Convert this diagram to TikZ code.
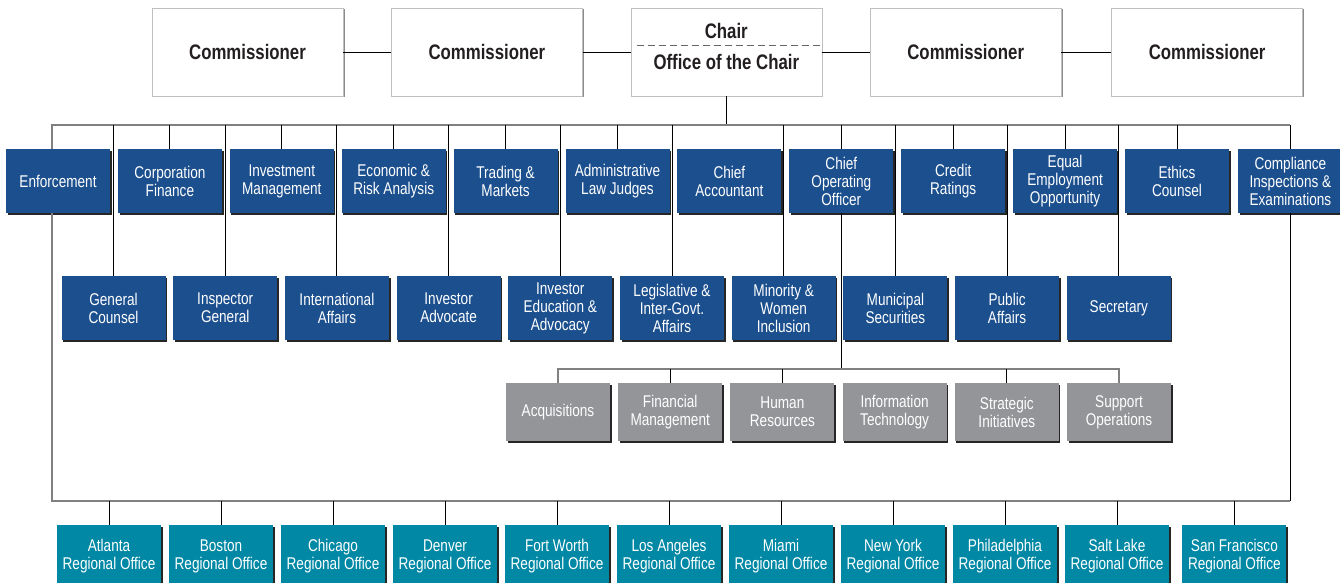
\documentclass[tikz,border=0pt]{standalone}
\usepackage{fontspec}
\setmainfont{Liberation Sans}[FakeStretch=0.8]
\usetikzlibrary{positioning,shadows}
\definecolor{secblue}{RGB}{27,79,142}
\definecolor{secteal}{RGB}{0,136,165}
\definecolor{secgray}{RGB}{147,149,152}
\definecolor{secink}{RGB}{35,31,32}

\tikzset{
	box/.style={rectangle, minimum width=104pt, inner sep=1pt, align=center, text=white,
		font=\fontsize{17}{18}\selectfont,
		drop shadow={shadow xshift=1.6pt, shadow yshift=-1.6pt, fill=black!85, opacity=1}},
	division/.style={box, fill=secblue, minimum height=64pt},
	office/.style={box, fill=secblue, minimum height=64pt},
	support/.style={box, fill=secgray, minimum height=58pt},
	region/.style={box, fill=secteal, minimum height=62pt},
	member/.style={rectangle, draw=black!25, fill=white, minimum width=191pt, minimum height=88pt,
		text=secink, font=\bfseries\fontsize{21}{23}\selectfont,
		drop shadow={shadow xshift=1.5pt, shadow yshift=-1.5pt, fill=black!45, opacity=1}},
	title/.style={text=secink, font=\bfseries\fontsize{21}{23}\selectfont, inner sep=0pt},
	link/.style={draw=black, line width=0.9pt},
	bus/.style={draw=black!50, line width=1.3pt},
	divider/.style={draw=black!60, line width=0.9pt, dash pattern=on 7pt off 4pt},
}

\begin{document}
\begin{tikzpicture}[x=1pt, y=-1pt]
	\useasboundingbox (0,0) rectangle (1340,583);
	
	% commission
	\node[member] (com1) at (247.5,52) {Commissioner};
	\node[member, right=48pt of com1] (com2) {Commissioner};
	\node[member, right=48pt of com2] (chair) {};
	\node[member, right=48pt of chair] (com4) {Commissioner};
	\node[member, right=50pt of com4] (com5) {Commissioner};
	
	\coordinate (chairsplit) at (0,45);
	\node[title] (chairhead) at (chair |- 0,31) {Chair};
	\node[title] (chairoffice) at (chair |- 0,62) {Office of the Chair};
	\draw[divider] ([xshift=6pt]chair.west |- chairsplit) -- (chair.east |- chairsplit);
	
	\draw[link] (com1.east) -- (com2.west) (com2.east) -- (chair.west)
		(chair.east) -- (com4.west) (com4.east) -- (com5.west);
	
	% divisions
	\node[division] (enf) at (58,181) {Enforcement};
	\node[division, right=7.5pt of enf] (corp) {Corporation\\Finance};
	\node[division, right=7.5pt of corp] (inv) {Investment\\Management};
	\node[division, right=7.5pt of inv] (econ) {Economic \&\\Risk Analysis};
	\node[division, right=7.5pt of econ] (trade) {Trading \&\\Markets};
	\node[division, right=7.5pt of trade] (alj) {Administrative\\Law Judges};
	\node[division, right=7.5pt of alj] (acct) {Chief\\Accountant};
	\node[division, right=7.5pt of acct] (coo) {Chief\\Operating\\Officer};
	\node[division, right=7.5pt of coo] (credit) {Credit\\Ratings};
	\node[division, right=7.5pt of credit] (eeo) {Equal\\Employment\\Opportunity};
	\node[division, right=7.5pt of eeo] (ethics) {Ethics\\Counsel};
	\node[division, right=9pt of ethics] (cie) {Compliance\\Inspections \&\\Examinations};
	
	% offices
	\node[office] (gc) at (113.5,308) {General\\Counsel};
	\node[office, right=7.3pt of gc] (ig) {Inspector\\General};
	\node[office, right=7.3pt of ig] (intl) {International\\Affairs};
	\node[office, right=7.3pt of intl] (advocate) {Investor\\Advocate};
	\node[office, right=7.3pt of advocate] (educ) {Investor\\Education \&\\Advocacy};
	\node[office, right=7.3pt of educ] (leg) {Legislative \&\\Inter-Govt.\\Affairs};
	\node[office, right=7.3pt of leg] (minority) {Minority \&\\Women\\Inclusion};
	\node[office, right=7.3pt of minority] (muni) {Municipal\\Securities};
	\node[office, right=7.3pt of muni] (public) {Public\\Affairs};
	\node[office, right=7.3pt of public] (secy) {Secretary};
	
	% operations
	\node[support] (acq) at (558,412) {Acquisitions};
	\node[support, right=7.8pt of acq] (fin) {Financial\\Management};
	\node[support, right=7.8pt of fin] (hr) {Human\\Resources};
	\node[support, right=7.8pt of hr] (it) {Information\\Technology};
	\node[support, right=7.8pt of it] (strat) {Strategic\\Initiatives};
	\node[support, right=7.8pt of strat] (ops) {Support\\Operations};
	
	% regional offices
	\node[region] (atl) at (109,556) {Atlanta\\Regional Office};
	\node[region, right=7.6pt of atl] (bos) {Boston\\Regional Office};
	\node[region, right=7.6pt of bos] (chi) {Chicago\\Regional Office};
	\node[region, right=7.6pt of chi] (den) {Denver\\Regional Office};
	\node[region, right=7.6pt of den] (ftw) {Fort Worth\\Regional Office};
	\node[region, right=7.6pt of ftw] (la) {Los Angeles\\Regional Office};
	\node[region, right=7.6pt of la] (mia) {Miami\\Regional Office};
	\node[region, right=7.6pt of mia] (ny) {New York\\Regional Office};
	\node[region, right=7.6pt of ny] (phl) {Philadelphia\\Regional Office};
	\node[region, right=7.6pt of phl] (slc) {Salt Lake\\Regional Office};
	\node[region, right=13pt of slc] (sf) {San Francisco\\Regional Office};
	
	\coordinate (topbus) at (52,125);
	\coordinate (coobus) at (0,369);
	\coordinate (regbus) at (52,501);
	
	\draw[link] (chair.south) -- (chair.south |- topbus);
	\draw[bus] (enf.north -| topbus) -- (topbus) -- (cie.north |- topbus);
	\draw[link] (cie.north |- topbus) -- (cie.north);
	\draw[link] (corp.north) -- (corp.north |- topbus) (inv.north) -- (inv.north |- topbus)
		(econ.north) -- (econ.north |- topbus) (trade.north) -- (trade.north |- topbus)
		(alj.north) -- (alj.north |- topbus) (coo.north) -- (coo.north |- topbus)
		(credit.north) -- (credit.north |- topbus) (eeo.north) -- (eeo.north |- topbus)
		(ethics.north) -- (ethics.north |- topbus);
	\draw[link] (gc.north) -- (gc.north |- topbus) (ig.north) -- (ig.north |- topbus)
		(intl.north) -- (intl.north |- topbus) (advocate.north) -- (advocate.north |- topbus)
		(educ.north) -- (educ.north |- topbus) (leg.north) -- (leg.north |- topbus)
		(minority.north) -- (minority.north |- topbus) (muni.north) -- (muni.north |- topbus)
		(public.north) -- (public.north |- topbus) (secy.north) -- (secy.north |- topbus);
	
	\draw[link] (coo.south) -- (coo.south |- coobus);
	\draw[bus] (acq.north) -- (acq.north |- coobus) -- (ops.north |- coobus) -- (ops.north);
	\draw[link] (fin.north) -- (fin.north |- coobus) (hr.north) -- (hr.north |- coobus)
		(strat.north) -- (strat.north |- coobus);
	
	\draw[bus] (enf.south -| regbus) -- (regbus) -- (regbus -| cie.south);
	\draw[link] (regbus -| cie.south) -- (cie.south);
	\draw[link] (atl.north) -- (atl.north |- regbus) (bos.north) -- (bos.north |- regbus)
		(chi.north) -- (chi.north |- regbus) (den.north) -- (den.north |- regbus)
		(ftw.north) -- (ftw.north |- regbus) (la.north) -- (la.north |- regbus)
		(mia.north) -- (mia.north |- regbus) (ny.north) -- (ny.north |- regbus)
		(phl.north) -- (phl.north |- regbus) (slc.north) -- (slc.north |- regbus)
		(sf.north) -- (sf.north |- regbus);
\end{tikzpicture}
\end{document}
